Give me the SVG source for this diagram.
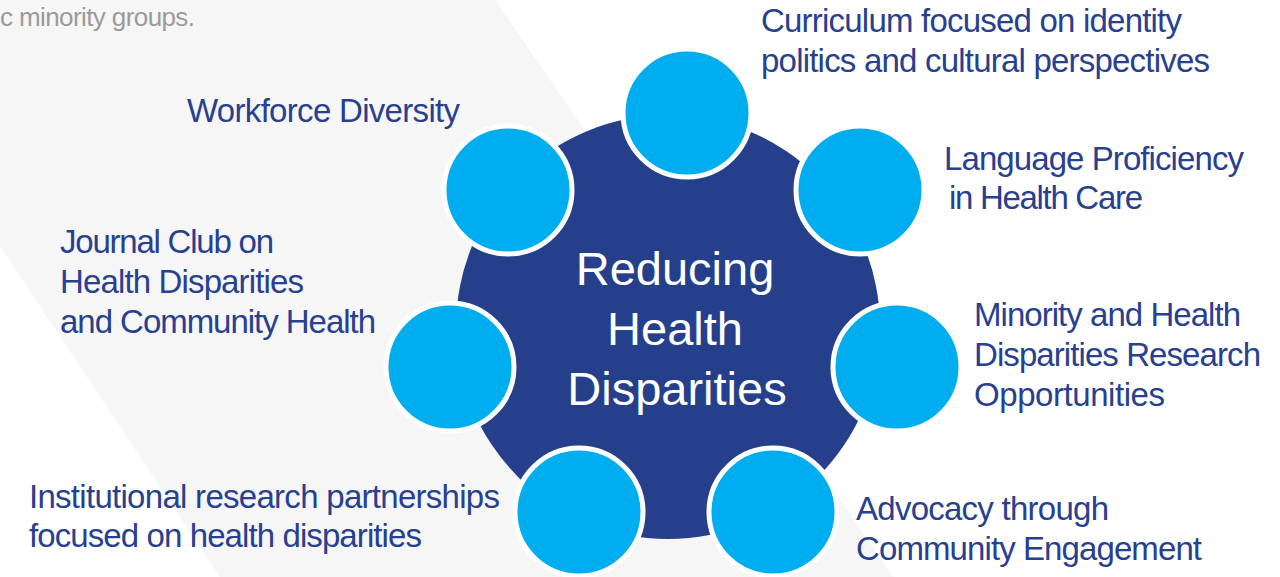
<svg xmlns="http://www.w3.org/2000/svg" width="1280" height="577" viewBox="0 0 1280 577">
<style>
.lbl{font-family:"Liberation Sans",Arial,sans-serif;font-size:33px;fill:#27408F}
.ctr{font-family:"Liberation Sans",Arial,sans-serif;font-size:47px;fill:#FFFFFF;text-anchor:middle}
.note{font-family:"Liberation Sans",Arial,sans-serif;font-size:26px;fill:#9B9B9B}
.spoke{fill:#00AEEF;stroke:#FFFFFF;stroke-width:5}
</style>
<rect x="0" y="0" width="1280" height="577" fill="#FFFFFF"/>
<polygon points="0,0 495,0 893,577 220,577 0,246" fill="#F6F6F6"/>
<text class="note" x="0" y="26" textLength="195" lengthAdjust="spacing">c minority groups.</text>
<g id="hub">
<circle cx="668" cy="327" r="212" fill="#263F8B"/>
<text class="ctr" x="675" y="285">Reducing</text>
<text class="ctr" x="675" y="345">Health</text>
<text class="ctr" x="677" y="405">Disparities</text>
</g>
<g id="connectors"></g>
<g id="n-curriculum">
<circle class="spoke" cx="687" cy="113" r="64"/>
<text class="lbl" x="761" y="32" textLength="421" lengthAdjust="spacing">Curriculum focused on identity</text>
<text class="lbl" x="761" y="72" textLength="449" lengthAdjust="spacing">politics and cultural perspectives</text>
</g>
<g id="n-language">
<circle class="spoke" cx="860" cy="190" r="64"/>
<text class="lbl" x="944" y="170" textLength="300" lengthAdjust="spacing">Language Proficiency</text>
<text class="lbl" x="949" y="209" textLength="194" lengthAdjust="spacing">in Health Care</text>
</g>
<g id="n-minority">
<circle class="spoke" cx="897" cy="367" r="64"/>
<text class="lbl" x="974" y="326" textLength="267" lengthAdjust="spacing">Minority and Health</text>
<text class="lbl" x="974" y="366" textLength="287" lengthAdjust="spacing">Disparities Research</text>
<text class="lbl" x="974" y="406" textLength="191" lengthAdjust="spacing">Opportunities</text>
</g>
<g id="n-advocacy">
<circle class="spoke" cx="773" cy="512" r="64"/>
<text class="lbl" x="856" y="520" textLength="253" lengthAdjust="spacing">Advocacy through</text>
<text class="lbl" x="856" y="560" textLength="346" lengthAdjust="spacing">Community Engagement</text>
</g>
<g id="n-institutional">
<circle class="spoke" cx="579" cy="512" r="64"/>
<text class="lbl" x="29" y="508" textLength="471" lengthAdjust="spacing">Institutional research partnerships</text>
<text class="lbl" x="29" y="547" textLength="393" lengthAdjust="spacing">focused on health disparities</text>
</g>
<g id="n-journal">
<circle class="spoke" cx="450" cy="367" r="64"/>
<text class="lbl" x="60" y="253" textLength="214" lengthAdjust="spacing">Journal Club on</text>
<text class="lbl" x="60" y="293" textLength="244" lengthAdjust="spacing">Health Disparities</text>
<text class="lbl" x="60" y="333" textLength="316" lengthAdjust="spacing">and Community Health</text>
</g>
<g id="n-workforce">
<circle class="spoke" cx="508" cy="190" r="64"/>
<text class="lbl" x="187" y="122" textLength="273" lengthAdjust="spacing">Workforce Diversity</text>
</g>
</svg>
